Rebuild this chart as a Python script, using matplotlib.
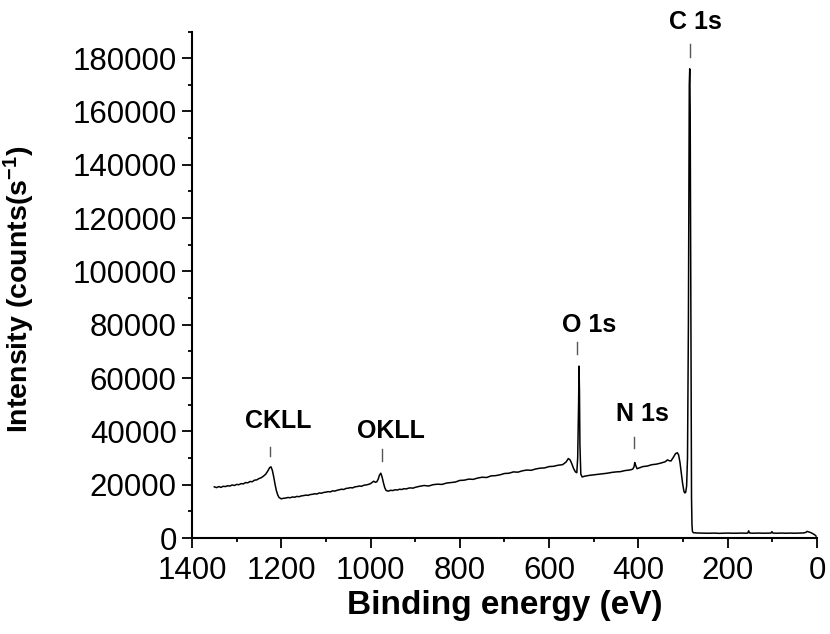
import matplotlib
matplotlib.use("Agg")
import matplotlib.pyplot as plt
from matplotlib.ticker import MultipleLocator

plt.rcParams['font.family'] = ['Liberation Sans', 'DejaVu Sans']
plt.rcParams['mathtext.fontset'] = 'custom'
plt.rcParams['mathtext.bf'] = 'Liberation Sans:bold'
plt.rcParams['mathtext.rm'] = 'Liberation Sans'
plt.rcParams['mathtext.default'] = 'bf'

# survey spectrum (binding energy eV, counts/s)
energy = [1350, 1345, 1340, 1335, 1330, 1325, 1320, 1315, 1310, 1305, 1300, 1295,
          1290, 1285, 1280, 1275, 1270, 1265, 1260, 1255, 1250, 1245, 1240, 1235,
          1230, 1226, 1223, 1220, 1217, 1214, 1211, 1208, 1205, 1200, 1195, 1190,
          1185, 1180, 1175, 1170, 1165, 1160, 1155, 1150, 1145, 1140, 1135, 1130,
          1125, 1120, 1115, 1110, 1105, 1100, 1095, 1090, 1085, 1080, 1075, 1070,
          1065, 1060, 1055, 1050, 1045, 1040, 1035, 1030, 1025, 1020, 1015, 1010,
          1005, 1000, 997, 993, 989, 986, 983, 980, 977, 974, 971, 968, 965, 960,
          955, 950, 945, 940, 935, 930, 925, 920, 915, 910, 905, 900, 890, 880,
          870, 860, 850, 840, 830, 820, 810, 800, 790, 780, 770, 760, 750, 740,
          730, 720, 710, 700, 690, 680, 670, 660, 650, 640, 630, 620, 610, 600,
          590, 580, 570, 562, 557, 553, 549, 545, 541, 538, 536, 534, 533, 532,
          531, 529, 526, 520, 510, 500, 490, 480, 470, 460, 450, 440, 430, 420,
          413, 410, 408, 406, 403, 398, 390, 380, 370, 360, 350, 340, 335, 331,
          327, 322, 317, 313, 310, 307, 304, 301, 298, 296, 294, 292, 290, 288,
          287, 286, 285, 284, 283, 282, 281, 280, 279, 277, 270, 260, 250, 240,
          230, 220, 210, 200, 190, 180, 170, 160, 155, 153, 151, 145, 130, 120,
          110, 103, 101, 99, 90, 80, 70, 60, 50, 40, 30, 25, 22, 19, 15, 10, 5, 2]
counts = [19200, 18900, 19300, 19000, 19400, 19300, 19600, 19500, 19900, 19700, 20100, 20000,
          20400, 20300, 20800, 20700, 21200, 21100, 21700, 21800, 22300, 22600, 23200, 23900,
          25200, 26400, 26700, 25400, 23000, 20200, 17800, 16200, 15200, 14700, 14900, 15000,
          15200, 15100, 15400, 15300, 15600, 15500, 15800, 15900, 16100, 16000, 16300, 16400,
          16600, 16500, 16900, 16800, 17100, 17200, 17400, 17300, 17700, 17600, 17900, 18100,
          18300, 18200, 18600, 18700, 18900, 18800, 19200, 19300, 19500, 19400, 19800, 19900,
          20100, 20400, 20800, 21300, 20900, 21100, 22000, 23600, 24300, 22800, 20600, 18800, 17800, 17600,
          17900, 17800, 18100, 18000, 18300, 18200, 18500, 18400, 18700, 18800, 18700, 19000, 19400, 19700,
          19500, 20000, 20200, 20100, 20600, 20800, 21000, 21600, 21700, 22100, 22000, 22500, 22800, 22700,
          23300, 23400, 23700, 24200, 24300, 24800, 24700, 25200, 25500, 25400, 25900, 26200, 26300, 26800,
          26900, 27300, 27500, 28500, 29800, 29300, 27800, 26000, 24800, 24500, 30000, 50000, 64500, 55000,
          35000, 24000, 22900, 23200, 23500, 23700, 23900, 24100, 24300, 24600, 24800, 24900, 25300, 25500,
          25800, 26600, 28300, 27200, 26000, 26300, 26800, 27000, 27500, 27700, 28100, 28600, 29300, 29000,
          28900, 30200, 31600, 32000, 31200, 28500, 24500, 20500, 17500, 16900, 17200, 19500, 30000, 80000,
          130000, 170000, 176000, 160000, 110000, 50000, 15000, 5000, 2500, 2000, 1900, 1850, 1800, 1800,
          1850, 1750, 1800, 1850, 1800, 1800, 1850, 1800, 1850, 2700, 1900, 1800, 1850, 1800,
          1850, 1850, 2400, 1850, 1800, 1850, 1800, 1850, 1800, 1850, 1900, 2100, 2500, 2300, 2100, 1700, 1200, 700]

# peak labels: text, text position (eV, counts), marker (eV, y0, y1)
peak_names = ['C 1s', 'O 1s', 'N 1s', 'CKLL', 'OKLL']
label_x = [272, 511, 392, 1207, 954]
label_y = [193500, 79900, 46500, 43900, 40100]
mark_x = [285, 537, 410, 1225, 975]
mark_lo = [180500, 68900, 33600, 30700, 29000]
mark_hi = [185500, 73600, 38000, 34200, 33300]

fig = plt.figure(figsize=(8.3, 6.34), dpi=100)
ax = fig.add_axes([0.2313, 0.1514, 0.7530, 0.7989])

ax.plot(energy, counts, color='black', lw=1.1)

for i in range(len(peak_names)):
    ax.plot([mark_x[i], mark_x[i]], [mark_lo[i], mark_hi[i]], color='#555555', lw=1.0, clip_on=False)
    ax.text(label_x[i], label_y[i], peak_names[i], ha='center', va='center',
            fontsize=18, fontweight='bold', clip_on=False)

ax.set_xlim(1400, 0)
ax.set_ylim(0, 190000)
ax.xaxis.set_major_locator(MultipleLocator(200))
ax.xaxis.set_minor_locator(MultipleLocator(100))
ax.yaxis.set_major_locator(MultipleLocator(20000))
ax.yaxis.set_minor_locator(MultipleLocator(10000))
ax.set_yticks(range(0, 180001, 20000))

for s in ['top', 'right']:
    ax.spines[s].set_visible(False)
for s in ['left', 'bottom']:
    ax.spines[s].set_linewidth(1.5)
ax.tick_params(which='major', direction='out', length=7, width=1.3, labelsize=22.5, pad=4)
ax.tick_params(which='minor', direction='out', length=3, width=1.3)
ax.tick_params(axis='x', which='major', pad=6)

ax.set_xlabel('Binding energy (eV)', fontsize=24, fontweight='bold')
ax.set_ylabel(r'Intensity (counts(s$^{-1}$)', fontsize=20.5, fontweight='bold')
ax.xaxis.set_label_coords(0.5, -0.103)
ax.yaxis.set_label_coords(-0.248, 0.49)

fig.savefig('out.png', dpi=100)
